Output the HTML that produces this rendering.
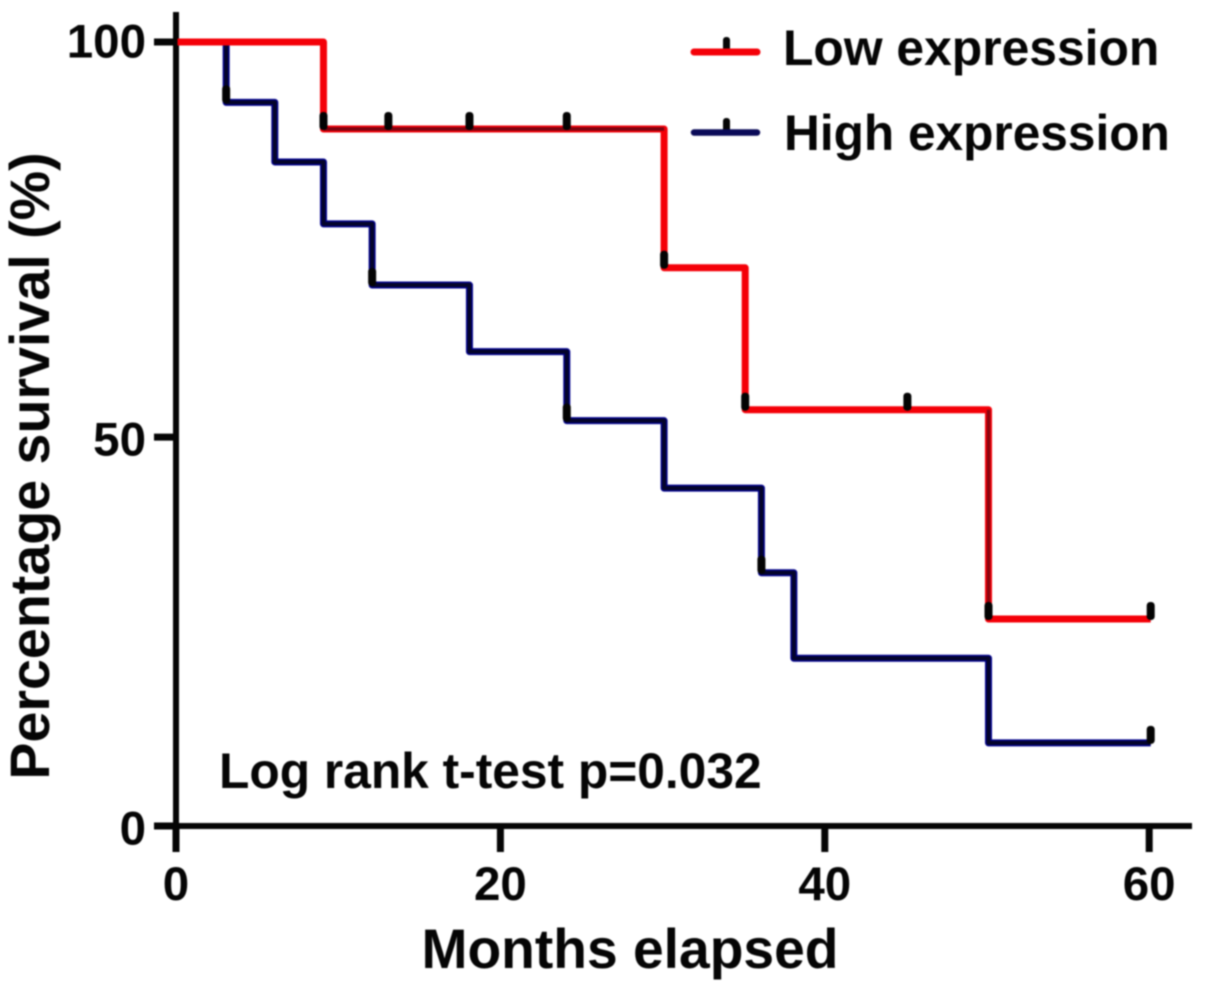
<!DOCTYPE html>
<html lang="en">
<head>
<meta charset="utf-8">
<title>Survival by expression level</title>
<style>
  html, body { margin: 0; padding: 0; background: #fff; }
  #chart { display: block; width: 1205px; height: 991px; filter: blur(0.8px); }
  text { font-family: "Liberation Sans", sans-serif; font-weight: bold; fill: #050505; }
</style>
</head>
<body>
<svg id="chart" xmlns="http://www.w3.org/2000/svg" width="1205" height="991" viewBox="0 0 1205 991">
  <g id="axes"></g>
  <g id="series"></g>
  <text transform="translate(49 466) rotate(-90)" text-anchor="middle" font-size="55.6">Percentage survival (%)</text>
  <text x="630" y="968" text-anchor="middle" font-size="55.2">Months elapsed</text>
  <text x="219" y="788" font-size="49.7">Log rank t-test p=0.032</text>
  <g>
    <g>
      <rect x="723" y="37" width="7" height="15" rx="3" fill="#050505"></rect>
      <line x1="694" y1="52" x2="757" y2="52" stroke="#f40008" stroke-width="7" stroke-linecap="round"></line>
      <text x="783" y="65" font-size="49.8">Low expression</text>
    </g>
    <g>
      <rect x="723" y="118" width="7" height="15" rx="3" fill="#050505"></rect>
      <line x1="694" y1="132.500" x2="757" y2="132.500" stroke="#0a0a58" stroke-width="6.500" stroke-linecap="round"></line>
      <text x="784" y="150" font-size="49.6">High expression</text>
    </g>
  </g>
</svg>
<script>
const xTicks = [0, 20, 40, 60];
const xTickLabels = ['0', '20', '40', '60'];
const yTicks = [0, 49.6, 100];
const yTickLabels = ['0', '50', '100'];

const lowTimes = [0, 9, 30, 35, 50, 60];
const lowSurvival = [100, 88.9, 71.2, 53.1, 26.4, 26.4];
const lowDarkRuns = [1];
const lowCensorTimes = [9, 13, 18, 24, 30, 35, 45, 50, 60];
const lowCensorSurvival = [88.9, 88.9, 88.9, 88.9, 71.2, 53.1, 53.1, 26.4, 26.4];

const highTimes = [0, 3, 6, 9, 12, 18, 24, 30, 36, 38, 50, 60];
const highSurvival = [100, 92.3, 84.7, 76.8, 69, 60.5, 51.7, 43.1, 32.3, 21.4, 10.6, 10.6];
const highCensorTimes = [3, 12, 24, 36, 60];
const highCensorSurvival = [92.3, 69, 51.7, 32.3, 10.6];

const NS = 'http://www.w3.org/2000/svg';
const xAt = t => 176 + t * 16.22;
const curveX = t => 177.5 + t * 16.22;
const yAt = s => 826 - s * 7.84;

function make(tag, attrs, parent) {
  const el = document.createElementNS(NS, tag);
  for (const k in attrs) el.setAttribute(k, attrs[k]);
  parent.appendChild(el);
  return el;
}

const axes = document.getElementById('axes');
const series = document.getElementById('series');

const yAxis = make('line', { x1: 176, y1: 12, x2: 176, y2: 826, stroke: '#050505', 'stroke-width': 6 }, axes);



const xAxis = make('line', { x1: 176, y1: 826, x2: 1192, y2: 826, stroke: '#050505', 'stroke-width': 6 }, axes);



xTicks.forEach((v, i) => {
  const mark = make('line', { x1: xAt(v), y1: 826, x2: xAt(v), y2: 852, stroke: '#050505', 'stroke-width': 7 }, axes);
  
  
  const label = make('text', { x: xAt(v), y: 900, 'text-anchor': 'middle', 'font-size': 47.5 }, axes);
  
  
  label.textContent = xTickLabels[i];
});

yTicks.forEach((v, i) => {
  const mark = make('line', { x1: 154, y1: yAt(v), x2: 176, y2: yAt(v), stroke: '#050505', 'stroke-width': 7 }, axes);
  
  
  const offset = v === 100 ? 15.5 : 18.5;
  const label = make('text', { x: 146, y: yAt(v) + offset, 'text-anchor': 'end', 'font-size': 47.5 }, axes);
  
  
  label.textContent = yTickLabels[i];
});

function stepPath(times, values) {
  let d = 'M' + curveX(times[0]) + ' ' + yAt(values[0]);
  for (let i = 1; i < times.length; i++) {
    d += 'H' + curveX(times[i]) + 'V' + yAt(values[i]);
  }
  return d;
}

function drawCensors(times, values, name) {
  times.forEach((t, i) => {
    const mark = make('rect', { x: curveX(t) - 4, y: yAt(values[i]) - 17, width: 8, height: 18, rx: 3.5, fill: '#030303' }, series);
    
    
  });
}

const highHalo = make('path', { d: stepPath(highTimes, highSurvival), fill: 'none', stroke: '#00008c', 'stroke-width': 7, 'stroke-linejoin': 'round' }, series);



const highCore = make('path', { d: stepPath(highTimes, highSurvival), fill: 'none', stroke: '#04042a', 'stroke-width': 4, 'stroke-linejoin': 'round' }, series);



drawCensors(highCensorTimes, highCensorSurvival, 'high');

const lowLine = make('path', { d: stepPath(lowTimes, lowSurvival), fill: 'none', stroke: '#f40008', 'stroke-width': 7, 'stroke-linejoin': 'round' }, series);



lowDarkRuns.forEach(i => {
  const run = make('line', { x1: curveX(lowTimes[i]), y1: yAt(lowSurvival[i]), x2: curveX(lowTimes[i + 1]), y2: yAt(lowSurvival[i]), stroke: '#7a0410', 'stroke-width': 3.500 }, series);
  
  
});

const lastDrop = lowTimes.length - 2;
const darkDrop = make('line', { x1: curveX(lowTimes[lastDrop]), y1: yAt(lowSurvival[lastDrop - 1]), x2: curveX(lowTimes[lastDrop]), y2: yAt(lowSurvival[lastDrop]), stroke: '#8a0410', 'stroke-width': 3.500 }, series);



drawCensors(lowCensorTimes, lowCensorSurvival, 'low');
</script>
</body>
</html>
